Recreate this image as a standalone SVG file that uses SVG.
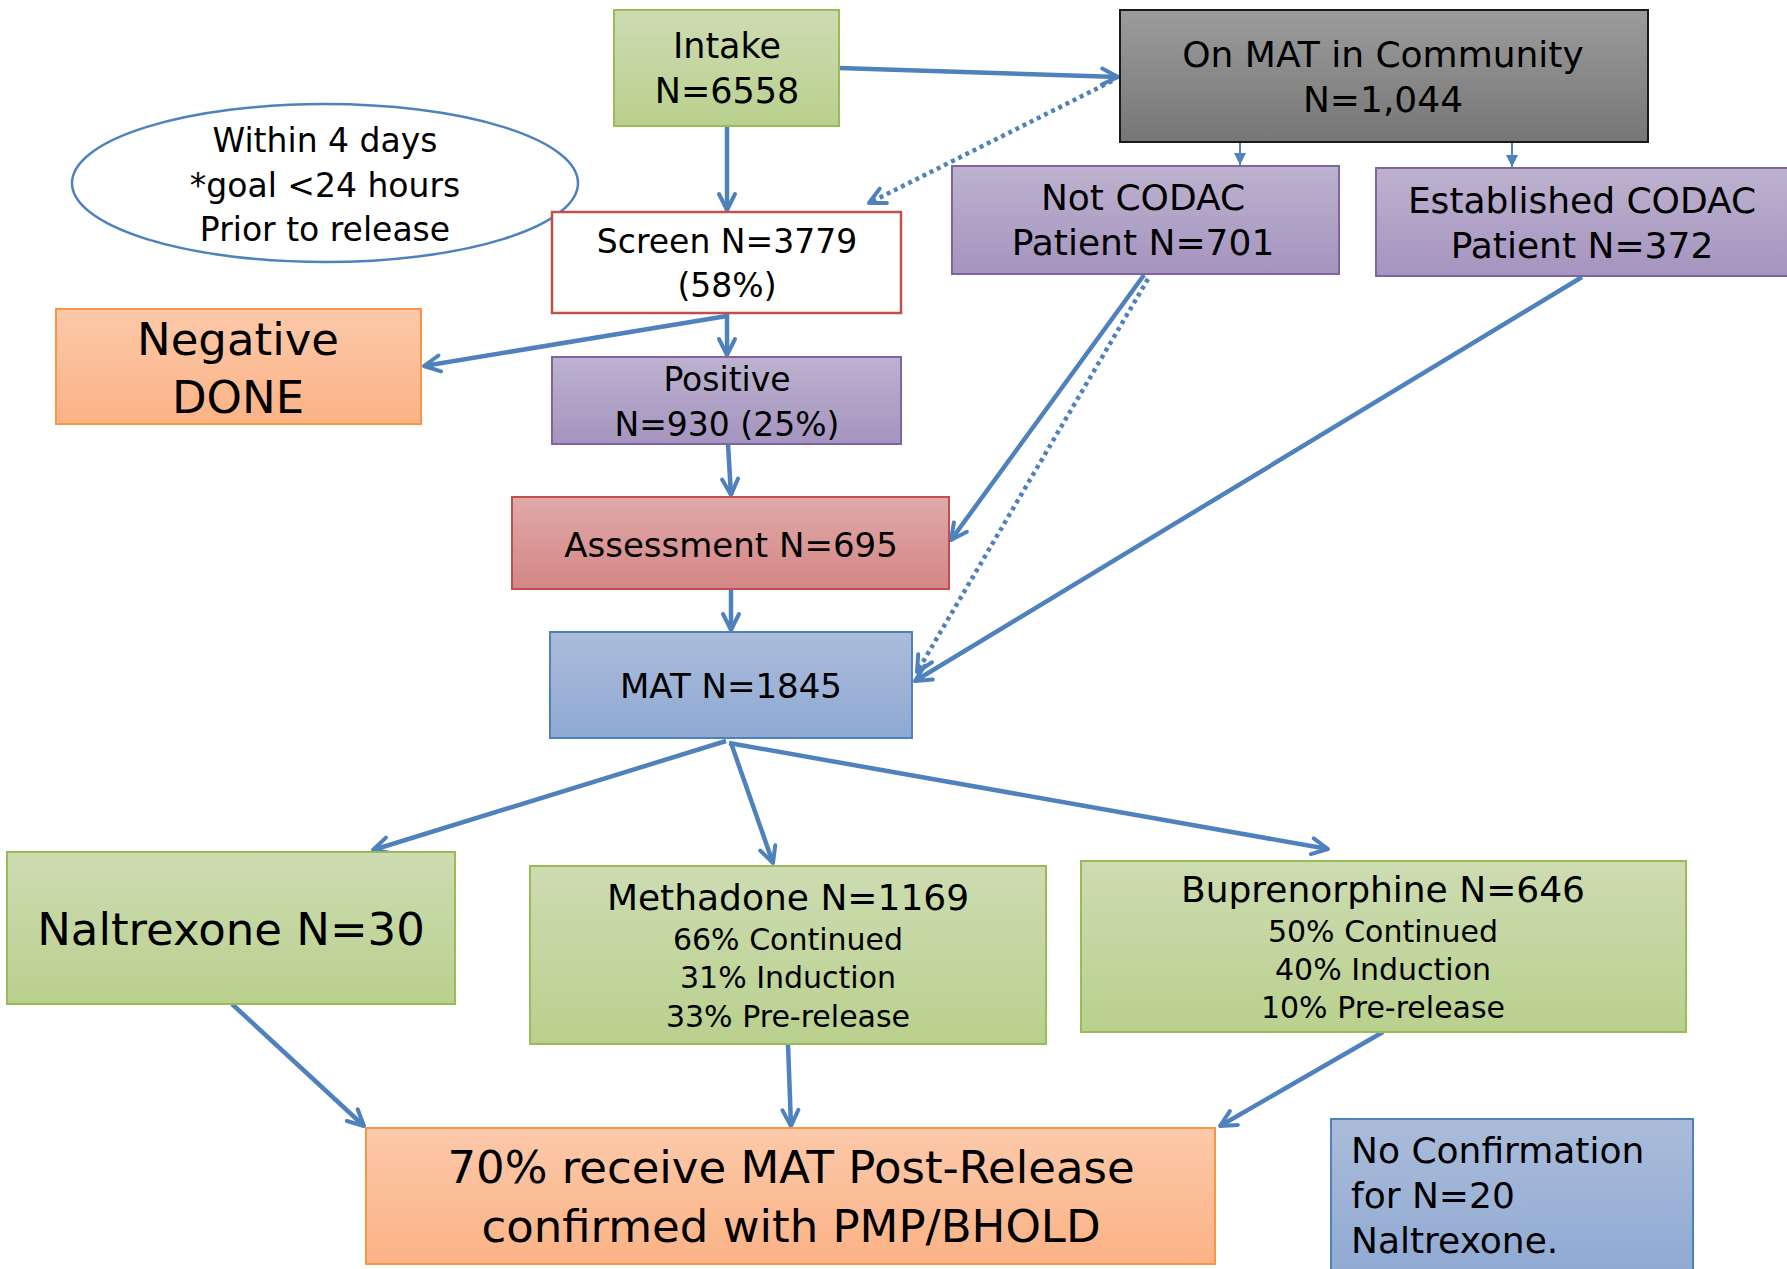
<svg xmlns="http://www.w3.org/2000/svg" width="1787" height="1269" viewBox="0 0 1787 1269">
<defs>
<linearGradient id="gGreen" x1="0" y1="0" x2="0" y2="1"><stop offset="0" stop-color="#cddcb2"/><stop offset="1" stop-color="#b9d08d"/></linearGradient>
<linearGradient id="gPurple" x1="0" y1="0" x2="0" y2="1"><stop offset="0" stop-color="#bdb2cf"/><stop offset="1" stop-color="#a594bf"/></linearGradient>
<linearGradient id="gOrange" x1="0" y1="0" x2="0" y2="1"><stop offset="0" stop-color="#fcc9aa"/><stop offset="1" stop-color="#fbb285"/></linearGradient>
<linearGradient id="gRed" x1="0" y1="0" x2="0" y2="1"><stop offset="0" stop-color="#dfaaa9"/><stop offset="1" stop-color="#d48685"/></linearGradient>
<linearGradient id="gBlue" x1="0" y1="0" x2="0" y2="1"><stop offset="0" stop-color="#abbcda"/><stop offset="1" stop-color="#8fa9d3"/></linearGradient>
<linearGradient id="gGray" x1="0" y1="0" x2="0" y2="1"><stop offset="0" stop-color="#9c9c9c"/><stop offset="1" stop-color="#767676"/></linearGradient>
<marker id="arr" viewBox="0 0 24 24" refX="21" refY="12" markerWidth="24" markerHeight="24" markerUnits="userSpaceOnUse" orient="auto"><path d="M5,4 L21,12 L5,20" fill="none" stroke="#4f81bd" stroke-width="4" stroke-linecap="round" stroke-linejoin="round"/></marker>
<marker id="tri" viewBox="0 0 12 12" refX="12" refY="6" markerWidth="12" markerHeight="12" markerUnits="userSpaceOnUse" orient="auto"><path d="M0,0 L12,6 L0,12 z" fill="#4f81bd"/></marker>
</defs>
<style>
text{font-family:"DejaVu Sans","Liberation Sans",sans-serif;fill:#000;text-anchor:middle}
.green{fill:url(#gGreen);stroke:#9bbb59;stroke-width:2}
.purple{fill:url(#gPurple);stroke:#8064a2;stroke-width:2}
.orange{fill:url(#gOrange);stroke:#f79646;stroke-width:2}
.red{fill:url(#gRed);stroke:#c0504d;stroke-width:2}
.blue{fill:url(#gBlue);stroke:#4f81bd;stroke-width:2}
.gray{fill:url(#gGray);stroke:#1a1a1a;stroke-width:2}
.c{fill:none;stroke:#4f81bd;stroke-width:4.5;marker-end:url(#arr)}
.dot{fill:none;stroke:#4f81bd;stroke-width:4.5;stroke-dasharray:4 4;marker-end:url(#arr)}
.thin{fill:none;stroke:#4f81bd;stroke-width:2;marker-end:url(#tri)}
</style>
<rect width="1787" height="1269" fill="#fff"/>
<g id="connectors">
<line class="c" x1="839" y1="68" x2="1118" y2="77"/>
<line class="dot" x1="1112" y1="81" x2="869" y2="203"/>
<line class="c" x1="727" y1="126" x2="727" y2="210"/>
<line class="c" x1="727" y1="316" x2="424" y2="366"/>
<line class="c" x1="727" y1="314" x2="727" y2="355"/>
<line class="c" x1="728" y1="444" x2="731" y2="495"/>
<line class="c" x1="731" y1="589" x2="731" y2="630"/>
<line class="thin" x1="1240" y1="142" x2="1240" y2="165"/>
<line class="thin" x1="1512" y1="142" x2="1512" y2="167"/>
<line class="c" x1="1144" y1="275" x2="951" y2="540"/>
<line class="dot" x1="1148" y1="279" x2="917" y2="672"/>
<line class="c" x1="1582" y1="277" x2="915" y2="681"/>
<line class="c" x1="726" y1="741" x2="373" y2="850"/>
<line class="c" x1="731" y1="743" x2="773" y2="863"/>
<line class="c" x1="729" y1="743" x2="1328" y2="849"/>
<line class="c" x1="232" y1="1004" x2="364" y2="1126"/>
<line class="c" x1="788" y1="1044" x2="791" y2="1126"/>
<line class="c" x1="1383" y1="1032" x2="1220" y2="1126"/>
</g>
<g id="intake"><rect class="green" x="614" y="10" width="225" height="116"/><text font-size="35" x="727" y="58">Intake</text><text font-size="35" x="727" y="103">N=6558</text></g>
<g id="note"><ellipse cx="325" cy="183" rx="253" ry="79" fill="#fff" stroke="#4f81bd" stroke-width="2.5"/><text font-size="33" x="325" y="152">Within 4 days</text><text font-size="33" x="325" y="197">*goal &lt;24 hours</text><text font-size="33" x="325" y="241">Prior to release</text></g>
<g id="screen"><rect x="552" y="212" width="349" height="101" fill="#fff" stroke="#c0504d" stroke-width="2.5"/><text font-size="33" x="727" y="253">Screen N=3779</text><text font-size="33" x="727" y="297">(58%)</text></g>
<g id="negative"><rect class="orange" x="56" y="309" width="365" height="115"/><text font-size="45" x="238" y="355">Negative</text><text font-size="45" x="238" y="413">DONE</text></g>
<g id="positive"><rect class="purple" x="552" y="357" width="349" height="87"/><text font-size="33" x="727" y="391">Positive</text><text font-size="33" x="727" y="436">N=930 (25%)</text></g>
<g id="assessment"><rect class="red" x="512" y="497" width="437" height="92"/><text font-size="34" x="731" y="557">Assessment N=695</text></g>
<g id="mat"><rect class="blue" x="550" y="632" width="362" height="106"/><text font-size="34" x="731" y="698">MAT N=1845</text></g>
<g id="community"><rect class="gray" x="1120" y="10" width="528" height="132"/><text font-size="36" x="1383" y="67">On MAT in Community</text><text font-size="36" x="1383" y="112">N=1,044</text></g>
<g id="notcodac"><rect class="purple" x="952" y="166" width="387" height="108"/><text font-size="36" x="1143" y="210">Not CODAC</text><text font-size="36" x="1143" y="255">Patient N=701</text></g>
<g id="established"><rect class="purple" x="1376" y="168" width="420" height="108"/><text font-size="36" x="1582" y="213">Established CODAC</text><text font-size="36" x="1582" y="258">Patient N=372</text></g>
<g id="naltrexone"><rect class="green" x="7" y="852" width="448" height="152"/><text font-size="45" x="231" y="945">Naltrexone N=30</text></g>
<g id="methadone"><rect class="green" x="530" y="866" width="516" height="178"/><text font-size="36" x="788" y="910">Methadone N=1169</text><text font-size="30" x="788" y="950">66% Continued</text><text font-size="30" x="788" y="988">31% Induction</text><text font-size="30" x="788" y="1027">33% Pre-release</text></g>
<g id="buprenorphine"><rect class="green" x="1081" y="861" width="605" height="171"/><text font-size="36" x="1383" y="902">Buprenorphine N=646</text><text font-size="30" x="1383" y="942">50% Continued</text><text font-size="30" x="1383" y="980">40% Induction</text><text font-size="30" x="1383" y="1018">10% Pre-release</text></g>
<g id="result"><rect class="orange" x="366" y="1128" width="849" height="136"/><text font-size="45" x="791" y="1183">70% receive MAT Post-Release</text><text font-size="45" x="791" y="1242">confirmed with PMP/BHOLD</text></g>
<g id="noconf"><rect class="blue" x="1331" y="1119" width="362" height="160"/><text font-size="36" x="1351" y="1163" style="text-anchor:start">No Confirmation</text><text font-size="36" x="1351" y="1208" style="text-anchor:start">for N=20</text><text font-size="36" x="1351" y="1253" style="text-anchor:start">Naltrexone.</text></g>
</svg>
